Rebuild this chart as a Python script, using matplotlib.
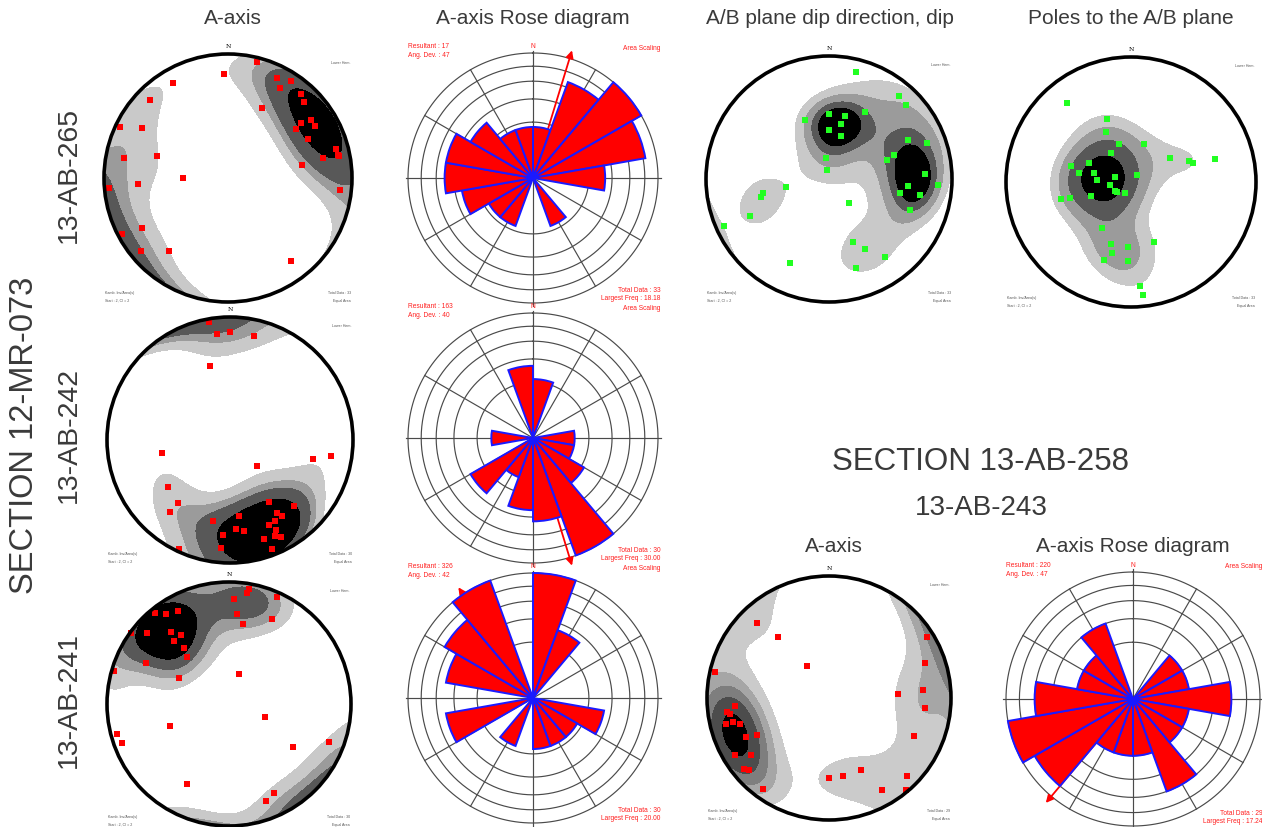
import numpy as np
import matplotlib.pyplot as plt
from matplotlib.patches import Circle

plt.rcParams['font.family'] = ['Liberation Sans', 'DejaVu Sans']

W, H = 1262, 827

# ---------------- data ----------------
# A-axis lineations (trend, plunge in degrees), section 12-MR-073
ab265_trend = [14, 358, 330, 315, 26, 26, 33, 30, 41, 45, 295, 300, 55, 53, 59, 54, 64,
               75, 78, 79, 78, 80, 281, 287, 270, 266, 265, 96, 240, 242, 230, 219, 143]
ab265_plunge = [4, 17, 13, 12, 37, 11, 7, 17, 11, 14, 4, 21, 19, 27, 19, 33, 29,
                11, 10, 10, 23, 39, 16, 40, 60, 28, 4, 10, 21, 4, 9, 25, 17]

ab242_trend = [350, 353, 0, 13, 345, 259, 134, 103, 99, 233, 220, 220, 148, 136, 147,
               146, 173, 192, 151, 155, 176, 171, 153, 152, 155, 184, 161, 205, 185, 159]
ab242_plunge = [3, 14, 13, 14, 38, 43, 65, 31, 18, 37, 34, 25, 40, 26, 30,
                26, 38, 33, 26, 25, 28, 26, 19, 12, 15, 24, 16, 3, 13, 6]

ab241_trend = [10, 9, 24, 3, 321, 325, 331, 5, 27, 10, 306, 311, 321, 325, 319,
               321, 318, 296, 286, 298, 18, 110, 250, 255, 250, 111, 124, 208, 153, 159]
ab241_plunge = [5, 9, 4, 15, 4, 11, 14, 27, 23, 34, 1, 12, 25, 32, 32,
                41, 47, 25, 2, 52, 69, 64, 47, 6, 7, 13, 37, 27, 19, 16]

# A/B plane of 13-AB-265: dip direction, dip
ab_dipdir = [14, 40, 46, 28, 0, 14, 338, 12, 0, 16, 64, 70, 70, 351, 72, 349, 87,
             93, 95, 259, 258, 255, 101, 100, 140, 245, 111, 246, 159, 153, 144, 205, 163]
ab_dip = [11, 13, 14, 38, 46, 46, 47, 52, 57, 60, 29, 16, 43, 76, 49, 84, 23,
          12, 36, 61, 44, 42, 41, 26, 69, 30, 30, 7, 44, 36, 23, 26, 25]

# poles to the A/B plane (trend, plunge)
pole_trend = [321, 339, 333, 19, 342, 325, 59, 70, 73, 75, 294, 285, 284, 280, 44, 286, 273,
              261, 241, 233, 207, 251, 255, 256, 212, 159, 198, 183, 195, 199, 182, 175, 174]
pole_plunge = [20, 45, 53, 64, 64, 67, 60, 49, 47, 31, 60, 49, 65, 55, 84, 79, 68,
               76, 78, 79, 82, 62, 48, 42, 54, 47, 47, 47, 41, 34, 37, 18, 10]

# section 13-AB-258, sample 13-AB-243
ab243_trend = [316, 320, 58, 325, 70, 283, 87, 85, 265, 96, 262, 261, 256, 256, 254,
               243, 245, 114, 239, 234, 230, 228, 156, 135, 180, 170, 216, 150, 140]
ab243_plunge = [16, 35, 6, 64, 17, 5, 43, 24, 24, 22, 17, 19, 14, 20, 25,
                34, 26, 25, 11, 22, 10, 13, 36, 11, 35, 35, 9, 14, 2]

# rose diagrams: counts in 20 degree bins, starting at N
rose_bins = np.arange(0, 360, 20)
rose265 = [1, 4, 6, 5, 2, 0, 0, 1, 0, 0, 1, 1, 2, 3, 3, 2, 1, 1]
rose242 = [2, 0, 0, 0, 1, 1, 2, 9, 4, 3, 1, 3, 0, 1, 0, 0, 0, 3]
rose241 = [6, 2, 0, 0, 0, 2, 1, 1, 1, 0, 1, 0, 3, 0, 3, 4, 6, 0]
rose243 = [0, 0, 1, 1, 3, 1, 1, 3, 1, 1, 1, 4, 5, 3, 1, 1, 2, 0]
resultants = [17, 163, 326, 220]
ang_devs = [47, 40, 42, 47]

# density contours, in multiples of the uniform density
kappa = 12.0
shades4 = ['#c9c9c9', '#9b9b9b', '#585858', '#000000']
shades5 = ['#cbcbcb', '#a6a6a6', '#7e7e7e', '#4c4c4c', '#000000']

fig = plt.figure(figsize=(W / 100, H / 100), dpi=100)


def box(cx, cy, R, L):
    return [(cx - R * L) / W, 1 - (cy + R * L) / H, 2 * R * L / W, 2 * R * L / H]


def ftext(x, y, s, **kw):
    fig.text(x / W, 1 - y / H, s, **kw)


def unit_vec(trend, plunge):
    t = np.radians(trend)
    p = np.radians(plunge)
    return np.stack([np.cos(p) * np.sin(t), np.cos(p) * np.cos(t), np.sin(p)], axis=-1)


def equal_area(trend, plunge):
    t = np.radians(np.asarray(trend, float))
    p = np.radians(np.asarray(plunge, float))
    r = np.sqrt(2) * np.sin((np.pi / 2 - p) / 2)
    return r * np.sin(t), r * np.cos(t)


def density(trend, plunge, gx, gy):
    # exponential smoothing of axial data on the lower hemisphere
    r = np.clip(np.hypot(gx, gy), 0, 1)
    gp = 90 - np.degrees(2 * np.arcsin(r / np.sqrt(2)))
    gt = np.degrees(np.arctan2(gx, gy))
    g = unit_vec(gt, gp).reshape(-1, 3)
    d = unit_vec(np.asarray(trend, float), np.asarray(plunge, float))
    cnt = np.exp(kappa * (np.abs(g @ d.T) - 1)).sum(axis=1)
    return (cnt / (len(d) / kappa)).reshape(gx.shape)


def stereonet(cx, cy, R, trend, plunge, color, levels, shades=shades4):
    L = 1.12
    ax = fig.add_axes(box(cx, cy, R, L))
    ax.set_xlim(-L, L)
    ax.set_ylim(-L, L)
    ax.axis('off')
    g = np.linspace(-1.01, 1.01, 261)
    gx, gy = np.meshgrid(g, g)
    cs = ax.contourf(gx, gy, density(trend, plunge, gx, gy), levels=list(levels) + [1000],
                     colors=shades)
    cs.set_clip_path(Circle((0, 0), 1, transform=ax.transData))
    x, y = equal_area(trend, plunge)
    ax.scatter(x, y, marker='s', s=14, color=color, linewidths=0, zorder=3, clip_on=False)
    ax.add_patch(Circle((0, 0), 1, fill=False, lw=2.6, ec='black', zorder=4))
    n = len(trend)
    small = dict(fontsize=2.6, color='#555555')
    ax.text(0, 1.06, 'N', ha='center', va='center', fontsize=4.5, family='DejaVu Serif')
    ax.text(0.99, 0.93, 'Lower Hem.', ha='right', va='center', **small)
    ax.text(-0.99, -0.93, 'Kamb. Inv/Area(s)', ha='left', va='center', **small)
    ax.text(-0.99, -0.99, 'Start : 2, CI = 2', ha='left', va='center', **small)
    ax.text(0.99, -0.93, 'Total Data : %d' % n, ha='right', va='center', **small)
    ax.text(0.99, -0.99, 'Equal Area', ha='right', va='center', **small)


def rose(cx, cy, R, counts, resultant, angdev):
    L = 1.15
    ax = fig.add_axes(box(cx, cy, R, L), projection='polar')
    ax.set_theta_zero_location('N')
    ax.set_theta_direction(-1)
    ax.set_ylim(0, L)
    ax.axis('off')
    th = np.linspace(0, 2 * np.pi, 361)
    for k in range(1, 6):
        ax.plot(th, np.full_like(th, np.sqrt(k / 5)), color='#4a4a4a', lw=0.85, zorder=1)
    for a in range(0, 360, 30):
        ax.plot([np.radians(a)] * 2, [0, 1.02 if a % 90 == 0 else 1.0],
                color='#4a4a4a', lw=0.85, zorder=1)
    counts = np.asarray(counts, float)
    ax.annotate('', xy=(np.radians(resultant), 1.09), xytext=(np.radians(resultant), 0),
                arrowprops=dict(arrowstyle='-|>', color='red', lw=1.3, mutation_scale=11),
                zorder=2)
    ax.bar(np.radians(rose_bins + 10), np.sqrt(counts / counts.max()), width=np.radians(20),
           color='#ff0000', edgecolor='#1a1aff', lw=1.4, zorder=3)
    red = dict(fontsize=4.8, color='#ff2020')
    n = int(counts.sum())
    ftext(cx - 1.0 * R, cy - 1.05 * R, 'Resultant : %d' % resultant, ha='left', va='center', **red)
    ftext(cx - 1.0 * R, cy - 0.98 * R, 'Ang. Dev. : %d' % angdev, ha='left', va='center', **red)
    ftext(cx + 1.02 * R, cy - 1.04 * R, 'Area Scaling', ha='right', va='center', **red)
    ftext(cx, cy - 1.05 * R, 'N', ha='center', va='center', **red)
    ftext(cx + 1.02 * R, cy + 0.90 * R, 'Total Data : %d' % n, ha='right', va='center', **red)
    ftext(cx + 1.02 * R, cy + 0.965 * R, 'Largest Freq : %.2f' % (100 * counts.max() / n),
          ha='right', va='center', **red)


stereonet(228, 178, 124, ab265_trend, ab265_plunge, '#ff0000', [1.05, 1.6, 2.05, 2.9])
stereonet(230, 440, 123, ab242_trend, ab242_plunge, '#ff0000', [1.05, 1.6, 2.05, 2.9])
stereonet(229, 704, 122, ab241_trend, ab241_plunge, '#ff0000', [1.1, 1.5, 1.85, 2.3])
stereonet(829, 179, 123, ab_dipdir, ab_dip, '#22ff22', [1.02, 1.38, 1.7, 1.95])
stereonet(1131, 182, 125, pole_trend, pole_plunge, '#22ff22', [1.3, 1.85, 2.5, 3.3])
stereonet(829, 698, 122, ab243_trend, ab243_plunge, '#ff0000', [0.95, 1.55, 2.1, 2.7, 3.5],
          shades5)

rose(533, 178, 125, rose265, resultants[0], ang_devs[0])
rose(533, 438, 125, rose242, resultants[1], ang_devs[1])
rose(533, 698, 125, rose241, resultants[2], ang_devs[2])
rose(1133, 699, 127, rose243, resultants[3], ang_devs[3])

title = dict(fontsize=15, color='#3a3a3a', ha='center', va='center')
ftext(233, 18, 'A-axis', **title)
ftext(533, 18, 'A-axis Rose diagram', **title)
ftext(830, 18, 'A/B plane dip direction, dip', **title)
ftext(1131, 18, 'Poles to the A/B plane', **title)
ftext(834, 547, 'A-axis', **title)
ftext(1133, 547, 'A-axis Rose diagram', **title)

big = dict(color='#3a3a3a', ha='center', va='center')
ftext(25, 435, 'SECTION 12-MR-073', rotation=90, fontsize=23.5, **big)
ftext(69, 175, '13-AB-265', rotation=90, fontsize=20.5, **big)
ftext(69, 435, '13-AB-242', rotation=90, fontsize=20.5, **big)
ftext(69, 700, '13-AB-241', rotation=90, fontsize=20.5, **big)
ftext(980, 462, 'SECTION 13-AB-258', fontsize=22.5, **big)
ftext(981, 508, '13-AB-243', fontsize=20, **big)

fig.savefig('out.png', dpi=100, facecolor='white')
